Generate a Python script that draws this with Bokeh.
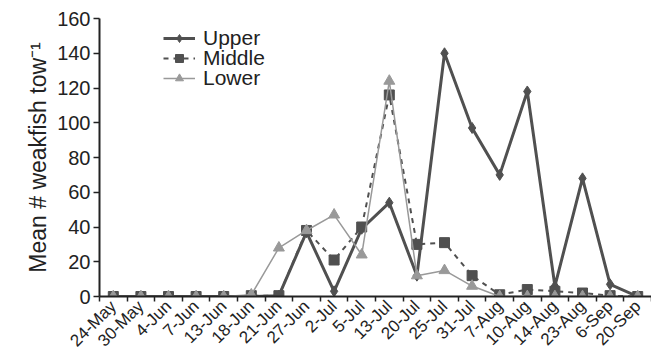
import numpy as np
from bokeh.plotting import figure
from bokeh.models import FixedTicker, Range1d, Legend, LegendItem
from bokeh.embed import file_html
from bokeh.resources import INLINE

dates = ["24-May", "30-May", "4-Jun", "7-Jun", "13-Jun", "18-Jun", "21-Jun", "27-Jun",
         "2-Jul", "5-Jul", "13-Jul", "20-Jul", "25-Jul", "31-Jul", "7-Aug", "10-Aug",
         "14-Aug", "23-Aug", "6-Sep", "20-Sep"]
upper = [0, 0, 0, 0, 0, 0, 0.5, 37, 3, 39, 54, 12, 140, 97, 70, 118, 6, 68, 7, 0]
middle = [0, 0, 0, 0, 0, 0.5, 0.5, 38, 21, 40, 116, 30, 31, 12, 1, 4, 3, 2, 0.5, 0]
lower = [0, 0, 0, 0, 0, 1, 28, 38, 47, 24, 124, 12, 15, 6, 0, 0, 0, 0, 0, 0]
y_ticks = [0, 20, 40, 60, 80, 100, 120, 140, 160]
series_names = ["Upper", "Middle", "Lower"]

n = len(dates)
xs = [i + 0.5 for i in range(n)]

FONT = "Liberation Sans"
DARK = "#505050"
LIGHT = "#999999"
AX = "#222222"

p = figure(width=651, height=360, output_backend="svg", toolbar_location=None,
           x_range=Range1d(0, n), y_range=Range1d(0, 160),
           min_border_left=99, min_border_right=0, min_border_top=18, min_border_bottom=63)
p.outline_line_color = None
p.grid.grid_line_color = None
p.background_fill_color = None
p.border_fill_color = None

# x axis
p.xaxis.ticker = FixedTicker(ticks=xs, minor_ticks=list(range(n + 1)))
p.xaxis.major_label_overrides = {x: d for x, d in zip(xs, dates)}
p.xaxis.major_label_orientation = np.pi / 4
p.xaxis.major_tick_line_color = None
p.xaxis.minor_tick_line_color = AX
p.xaxis.minor_tick_out = 5
p.xaxis.minor_tick_in = 0
p.xaxis.minor_tick_line_width = 1.5
p.xaxis.axis_line_color = AX
p.xaxis.axis_line_width = 2
p.xaxis.major_label_text_font = FONT
p.xaxis.major_label_text_font_size = "17px"
p.xaxis.major_label_text_color = AX
p.xaxis.major_label_standoff = 1

# y axis
p.yaxis.ticker = FixedTicker(ticks=y_ticks, minor_ticks=[])
p.yaxis.major_tick_out = 6
p.yaxis.major_tick_in = 0
p.yaxis.major_tick_line_width = 1.5
p.yaxis.major_tick_line_color = AX
p.yaxis.axis_line_color = AX
p.yaxis.axis_line_width = 2
p.yaxis.major_label_text_font = FONT
p.yaxis.major_label_text_font_size = "20px"
p.yaxis.major_label_text_color = AX
p.yaxis.major_label_standoff = 3
p.yaxis.axis_label = "Mean # weakfish tow\u207b\u00b9"
p.yaxis.axis_label_text_font = FONT
p.yaxis.axis_label_text_font_size = "23px"
p.yaxis.axis_label_text_font_style = "normal"
p.yaxis.axis_label_text_color = AX
p.yaxis.axis_label_standoff = 3

lu = p.line(xs, upper, line_color=DARK, line_width=3)
mu = p.scatter(xs, upper, marker="diamond", size=11, fill_color=DARK, line_color=DARK)

lm = p.line(xs, middle, line_color=DARK, line_width=2, line_dash="5 5")
mm = p.scatter(xs, middle, marker="square", size=10, fill_color=DARK, line_color=DARK)

ll = p.line(xs, lower, line_color=LIGHT, line_width=1.5)
ml = p.scatter(xs, lower, marker="triangle", size=11, fill_color=LIGHT, line_color=LIGHT)

renderer_sets = [[lu, mu], [lm, mm], [ll, ml]]
for k, (name, rs) in enumerate(zip(series_names, renderer_sets)):
    lg = Legend(items=[LegendItem(label=name, renderers=rs)],
                location=(64, 246 - 20 * k), background_fill_alpha=0, border_line_color=None,
                label_text_font=FONT, label_text_font_size="21px", label_text_color=AX,
                glyph_width=32, glyph_height=20, label_height=20, spacing=0, padding=0,
                label_standoff=8, margin=0)
    p.add_layout(lg)

open("out.html", "w").write(file_html(p, INLINE))
